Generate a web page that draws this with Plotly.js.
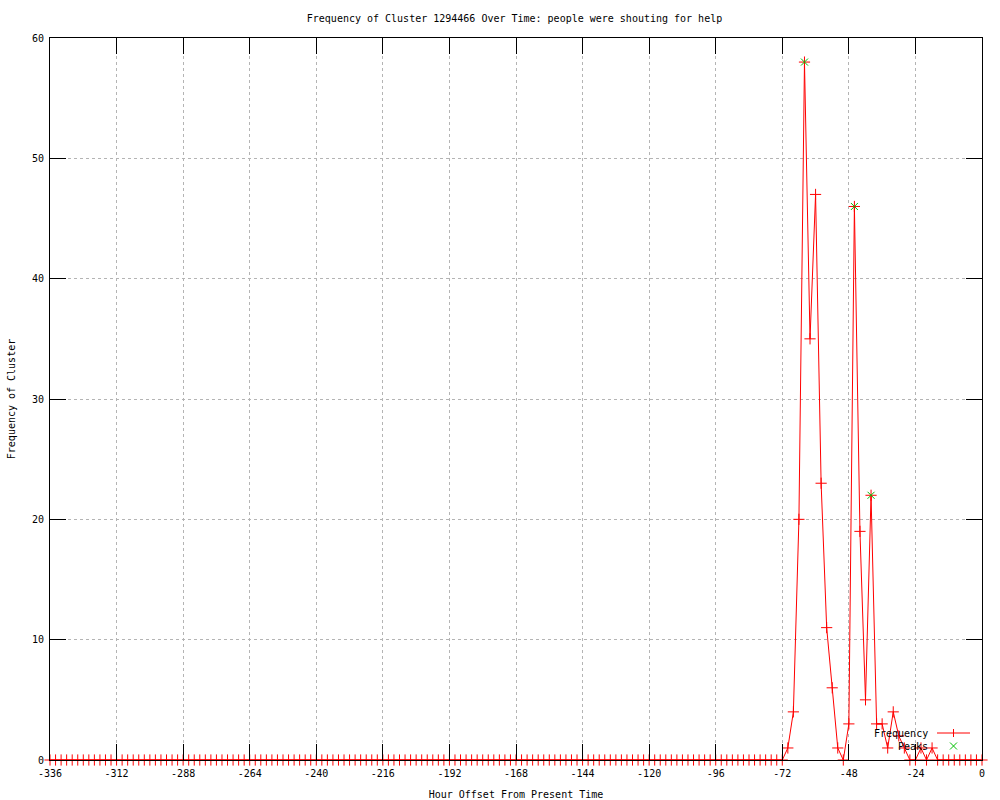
<!DOCTYPE html>
<html>
<head>
<meta charset="utf-8">
<script src="https://cdn.plot.ly/plotly-3.0.1.min.js"></script>
<style>html,body{margin:0;padding:0;background:#fff;}#chart{width:1000px;height:800px;}</style>
</head>
<body>
<div id="chart"></div>
<script>
// Hour offsets (every 2 hours)
const hours = [
  -336,-334,-332,-330,-328,-326,-324,-322,-320,-318,-316,-314,
  -312,-310,-308,-306,-304,-302,-300,-298,-296,-294,-292,-290,
  -288,-286,-284,-282,-280,-278,-276,-274,-272,-270,-268,-266,
  -264,-262,-260,-258,-256,-254,-252,-250,-248,-246,-244,-242,
  -240,-238,-236,-234,-232,-230,-228,-226,-224,-222,-220,-218,
  -216,-214,-212,-210,-208,-206,-204,-202,-200,-198,-196,-194,
  -192,-190,-188,-186,-184,-182,-180,-178,-176,-174,-172,-170,
  -168,-166,-164,-162,-160,-158,-156,-154,-152,-150,-148,-146,
  -144,-142,-140,-138,-136,-134,-132,-130,-128,-126,-124,-122,
  -120,-118,-116,-114,-112,-110,-108,-106,-104,-102,-100,-98,
  -96,-94,-92,-90,-88,-86,-84,-82,-80,-78,-76,-74,
  -72,-70,-68,-66,-64,-62,-60,-58,-56,-54,-52,-50,
  -48,-46,-44,-42,-40,-38,-36,-34,-32,-30,-28,-26,
  -24,-22,-20,-18,-16,-14,-12,-10,-8,-6,-4,-2,
  0
];
const frequency = [
  0,0,0,0,0,0,0,0,0,0,0,0,
  0,0,0,0,0,0,0,0,0,0,0,0,
  0,0,0,0,0,0,0,0,0,0,0,0,
  0,0,0,0,0,0,0,0,0,0,0,0,
  0,0,0,0,0,0,0,0,0,0,0,0,
  0,0,0,0,0,0,0,0,0,0,0,0,
  0,0,0,0,0,0,0,0,0,0,0,0,
  0,0,0,0,0,0,0,0,0,0,0,0,
  0,0,0,0,0,0,0,0,0,0,0,0,
  0,0,0,0,0,0,0,0,0,0,0,0,
  0,0,0,0,0,0,0,0,0,0,0,0,
  0,1,4,20,58,35,47,23,11,6,1,0,
  3,46,19,5,22,3,3,1,4,2,1,0,
  0,1,0,1,0,0,0,0,0,0,0,0,
  0
];
const peakHours = [-64, -46, -40];
const peakValues = [58, 46, 22];

const xTickVals = [-336,-312,-288,-264,-240,-216,-192,-168,-144,-120,-96,-72,-48,-24,0];
const xTickText = ["-336","-312","-288","-264","-240","-216","-192","-168","-144","-120","-96","-72","-48","-24","0"];
const yTickVals = [0,10,20,30,40,50,60];

const FONT = "DejaVu Sans Mono, Liberation Mono, monospace";

const traces = [
  {
    x: hours, y: frequency, type: 'scatter', mode: 'lines+markers', name: 'Frequency',
    line: {color: '#ff0000', width: 1},
    marker: {symbol: 'cross-thin-open', size: 8, line: {color: '#ff0000', width: 1}, color: '#ff0000'},
    cliponaxis: false, showlegend: false
  },
  {
    x: peakHours, y: peakValues, type: 'scatter', mode: 'markers', name: 'Peaks',
    marker: {symbol: 'x-thin-open', size: 7, line: {color: '#00c000', width: 1}, color: '#00c000'},
    cliponaxis: false, showlegend: false
  }
];

// legend geometry in paper units
const px = v => (v - 50) / 932;
const py = v => (760 - v) / 722;

const layout = {
  width: 1000, height: 800,
  margin: {l: 50, r: 18, t: 38, b: 40},
  paper_bgcolor: '#ffffff', plot_bgcolor: '#ffffff',
  font: {family: FONT, size: 10, color: '#000'},
  title: {text: 'Frequency of Cluster 1294466 Over Time: people were shouting for help',
          x: 0.5145, xref: 'container', xanchor: 'center', y: 1 - 18/800, yref: 'container', yanchor: 'middle',
          font: {family: FONT, size: 10, color: '#000'}},
  xaxis: {
    range: [-336, 0], tickvals: xTickVals, ticktext: xTickText,
    ticks: 'inside', ticklen: 16, tickwidth: 1, tickcolor: '#000',
    showline: true, linecolor: '#000', linewidth: 1, mirror: 'ticks',
    showgrid: true, gridcolor: '#b4b4b4', griddash: 'dot', gridwidth: 1,
    zeroline: false, ticklabelstandoff: 4,
    tickfont: {family: FONT, size: 10, color: '#000'},
    title: {text: 'Hour Offset From Present Time', font: {family: FONT, size: 10, color: '#000'}, standoff: 12}
  },
  yaxis: {
    range: [0, 60], tickvals: yTickVals,
    ticks: 'inside', ticklen: 16, tickwidth: 1, tickcolor: '#000',
    showline: true, linecolor: '#000', linewidth: 1, mirror: 'ticks',
    showgrid: true, gridcolor: '#b4b4b4', griddash: 'dot', gridwidth: 1,
    zeroline: false, ticklabelstandoff: 3,
    tickfont: {family: FONT, size: 10, color: '#000'},
    title: {text: 'Frequency of Cluster', font: {family: FONT, size: 10, color: '#000'}, standoff: 14}
  },
  showlegend: false,
  annotations: [
    {xref: 'paper', yref: 'paper', x: px(930), y: py(733), text: 'Frequency', showarrow: false,
     xanchor: 'right', yanchor: 'middle', font: {family: FONT, size: 10, color: '#000'}},
    {xref: 'paper', yref: 'paper', x: px(930), y: py(746), text: 'Peaks', showarrow: false,
     xanchor: 'right', yanchor: 'middle', font: {family: FONT, size: 10, color: '#000'}}
  ],
  shapes: [
    {type: 'line', xref: 'paper', yref: 'paper', x0: px(937), x1: px(970), y0: py(733), y1: py(733), line: {color: '#ff0000', width: 1}},
    {type: 'line', xref: 'paper', yref: 'paper', x0: px(953.5), x1: px(953.5), y0: py(729), y1: py(737), line: {color: '#ff0000', width: 1}},
    {type: 'line', xref: 'paper', yref: 'paper', x0: px(950), x1: px(957), y0: py(742.5), y1: py(749.5), line: {color: '#00c000', width: 1}},
    {type: 'line', xref: 'paper', yref: 'paper', x0: px(950), x1: px(957), y0: py(749.5), y1: py(742.5), line: {color: '#00c000', width: 1}}
  ]
};

Plotly.newPlot('chart', traces, layout, {displayModeBar: false, staticPlot: true});
</script>
</body>
</html>
